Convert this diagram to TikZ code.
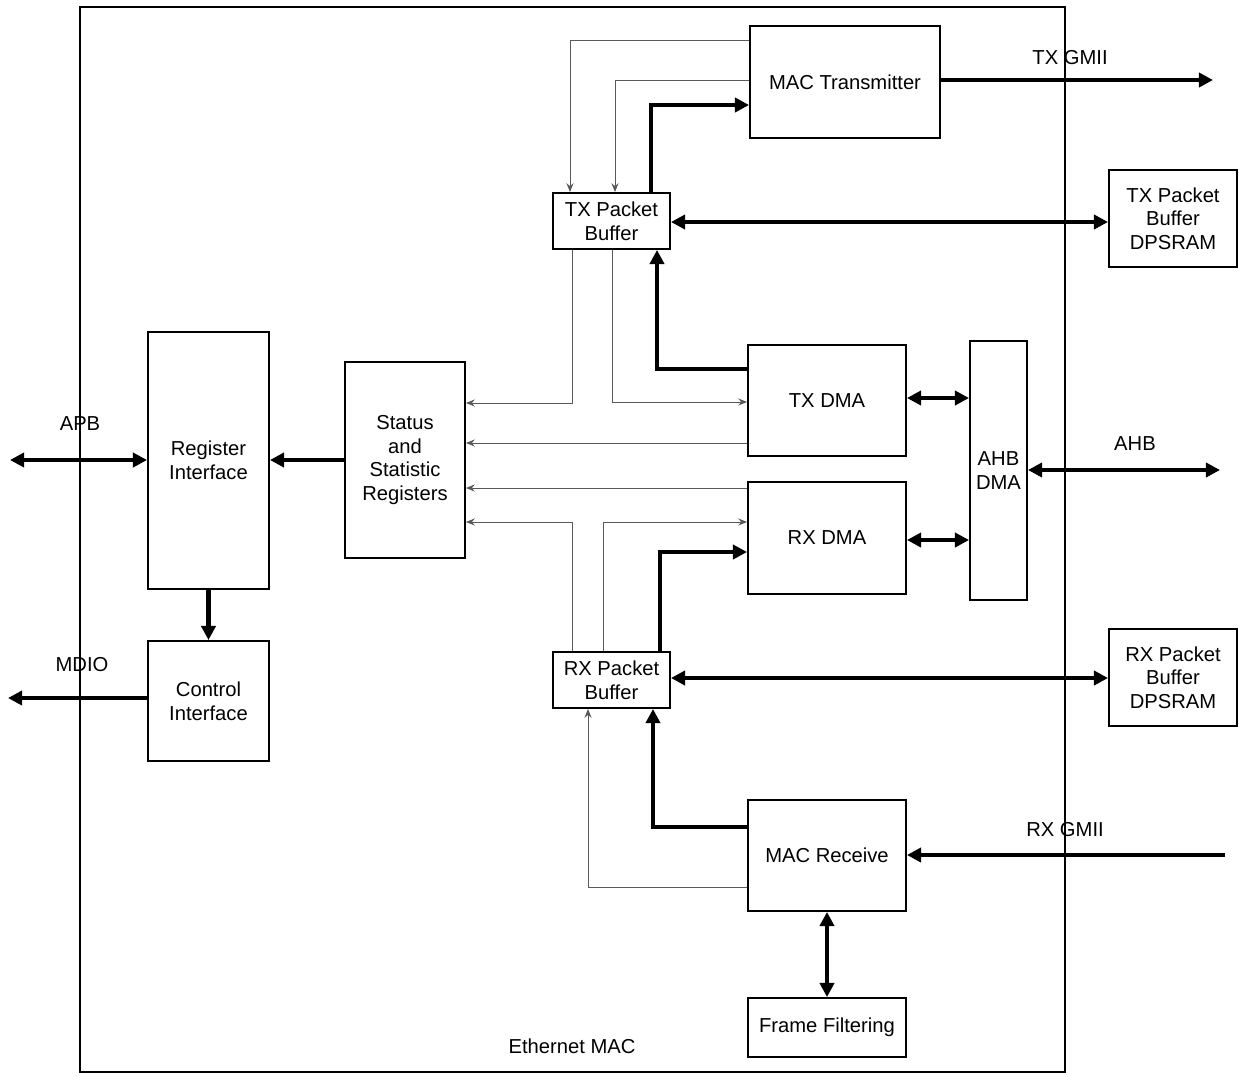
\documentclass[tikz,border=0pt]{standalone}
\usepackage{fontspec}
\setmainfont{Liberation Sans}
\usetikzlibrary{arrows.meta}
\tikzset{
 box/.style={draw,line width=1.1pt,align=center,inner sep=0pt,font=\fontsize{11.5}{13.5}\selectfont},
 thk/.style={line width=2.3pt,-{Triangle[length=8pt,width=8pt]}},
 thkb/.style={line width=2.3pt,{Triangle[length=8pt,width=8pt]}-{Triangle[length=8pt,width=8pt]}},
 thn/.style={line width=0.5pt,gray!70!black,-{Stealth[length=5pt,width=4pt]}},
 lbl/.style={font=\fontsize{11.5}{13.5}\selectfont}
}
\newcommand{\bx}[6]{\node[box,minimum width={(#4-#2)*0.02cm},minimum height={(#5-#3)*0.02cm}] (#1) at ({(#2+#4)/2},{(#3+#5)/2}) {#6};}
\begin{document}
\begin{tikzpicture}[x=0.02cm,y=-0.02cm]
\useasboundingbox (0,0) rectangle (1243,1076);
\draw[line width=1.1pt] (80,7) rectangle (1065,1072);
\bx{mt}{750}{26}{940}{138}{MAC Transmitter}
\bx{tb}{553}{193}{670}{249}{TX Packet\\Buffer}
\bx{td}{1109}{170}{1237}{267}{TX Packet\\Buffer\\DPSRAM}
\bx{tdma}{748}{345}{906}{456}{TX DMA}
\bx{ahb}{970}{341}{1027}{600}{AHB\\DMA}
\bx{rdma}{748}{482}{906}{594}{RX DMA}
\bx{st}{345}{362}{465}{558}{Status\\and\\Statistic\\Registers}
\bx{ri}{148}{332}{269}{589}{Register\\Interface}
\bx{ci}{148}{641}{269}{761}{Control\\Interface}
\bx{rb}{553}{652}{670}{708}{RX Packet\\Buffer}
\bx{rd}{1109}{629}{1237}{726}{RX Packet\\Buffer\\DPSRAM}
\bx{mr}{748}{800}{906}{911}{MAC Receive}
\bx{ff}{748}{998}{906}{1057}{Frame Filtering}
\coordinate (txo) at (1213,80);
\coordinate (ahbo) at (1220,470);
\coordinate (rxi) at (1225,855);
\coordinate (apbo) at (10,460);
\coordinate (mdo) at (8,698);
% TX
\draw[thk] (mt.east |- 0,80) -- (txo);
\node[lbl] at (1070,58) {TX GMII};
\draw[thk] (tb.north -| 651,0) -- (651,105) -- (mt.west |- 0,105);
\draw[thn] (mt.west |- 0,40) -- (570,40) -- (tb.north -| 570,0);
\draw[thn] (mt.west |- 0,80) -- (615,80) -- (tb.north -| 615,0);
\draw[thkb] (tb.east |- 0,222) -- (td.west |- 0,222);
\draw[thk] (tdma.west |- 0,369) -- (657,369) -- (tb.south -| 657,0);
\draw[thn] (tb.south -| 572,0) -- (572,403) -- (st.east |- 0,403);
\draw[thn] (tb.south -| 612,0) -- (612,402) -- (tdma.west |- 0,402);
\draw[thn] (tdma.west |- 0,443) -- (st.east |- 0,443);
\draw[thkb] (tdma.east |- 0,398) -- (ahb.west |- 0,398);
\draw[thkb] (rdma.east |- 0,540) -- (ahb.west |- 0,540);
\draw[thkb] (ahb.east |- 0,470) -- (ahbo);
\node[lbl] at (1135,444) {AHB};
% RX
\draw[thn] (rdma.west |- 0,488) -- (st.east |- 0,488);
\draw[thn] (rb.north -| 572,0) -- (572,522) -- (st.east |- 0,522);
\draw[thn] (rb.north -| 603,0) -- (603,522) -- (rdma.west |- 0,522);
\draw[thk] (rb.north -| 660,0) -- (660,552) -- (rdma.west |- 0,552);
\draw[thkb] (rb.east |- 0,678) -- (rd.west |- 0,678);
\draw[thk] (mr.west |- 0,827) -- (653,827) -- (rb.south -| 653,0);
\draw[thn] (mr.west |- 0,887) -- (588,887) -- (rb.south -| 588,0);
\draw[thk] (rxi) -- (mr.east |- 0,855);
\node[lbl] at (1065,830) {RX GMII};
\draw[thkb] (mr.south) -- (ff.north);
% left
\draw[thk] (st.west |- 0,460) -- (ri.east |- 0,460);
\draw[thkb] (apbo) -- (ri.west |- 0,460);
\node[lbl] at (80,424) {APB};
\draw[thk] (ri.south) -- (ci.north);
\draw[thk] (ci.west |- 0,698) -- (mdo);
\node[lbl] at (82,665) {MDIO};
\node[lbl] at (572,1046) {Ethernet MAC};
\end{tikzpicture}
\end{document}
